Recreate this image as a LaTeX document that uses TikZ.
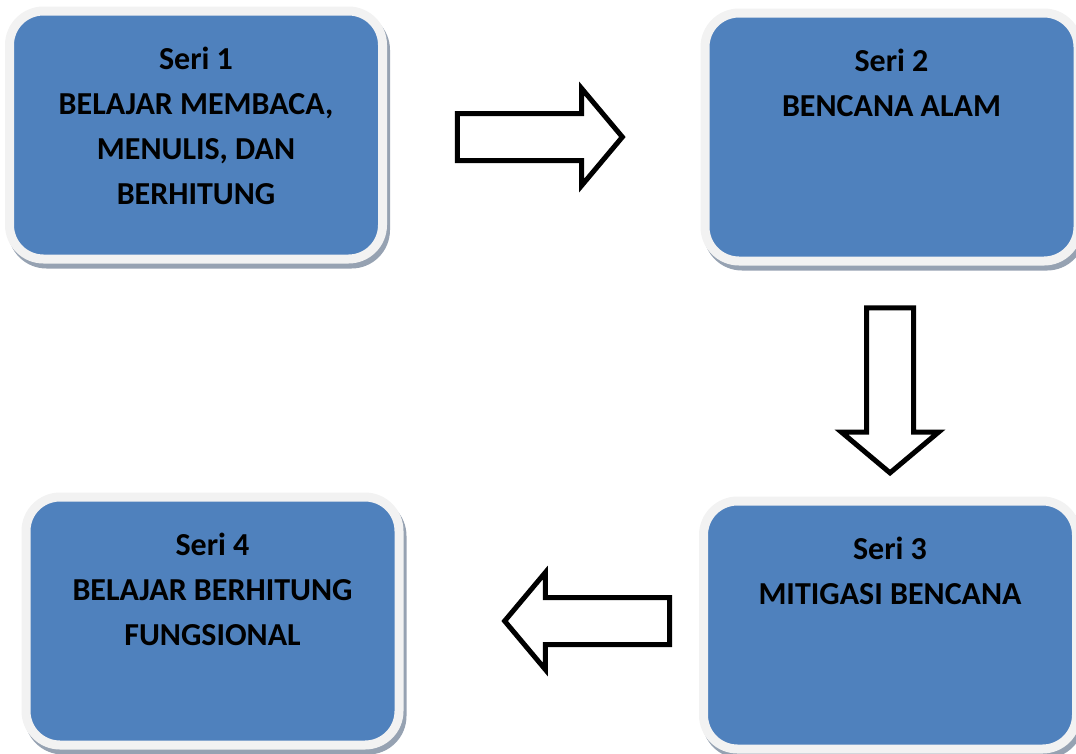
\documentclass[tikz,border=0pt]{standalone}
\usepackage{fontspec}
\setmainfont{Carlito}
\usepackage{tikz}
\usepackage{xcolor}
\usetikzlibrary{positioning,shapes.arrows,shadows}
\definecolor{seriblue}{RGB}{79,129,189}
\definecolor{rimgray}{RGB}{242,242,242}
\definecolor{shadegray}{RGB}{150,162,178}

\begin{document}
\begin{tikzpicture}[x=1pt,y=-1pt,
		seribox/.style={rectangle,
			rounded corners=34pt,
			minimum width=373pt,
			minimum height=248pt,
			fill=seriblue,
			draw=rimgray,
			line width=9pt,
			outer sep=0pt,
			drop shadow={shadow xshift=3pt,shadow yshift=-5pt,
				fill=shadegray,draw=shadegray,line width=9pt,opacity=1}},
		seritext/.style={inner sep=0pt,
			outer sep=0pt,
			anchor=north,
			align=center,
			font=\fontsize{32}{45}\selectfont\bfseries},
		blokpanah/.style={single arrow,
			draw=black,
			fill=white,
			line width=5pt,
			inner sep=21pt,
			minimum height=165pt,
			single arrow head extend=25pt,
			single arrow tip angle=100}]
	\useasboundingbox (0,0) rectangle (1076,753);
	
	% kotak seri
	\node[seribox] (seri1) at (196,135) {};
	\node[seribox] (seri2) at (891.5,137) {};
	\node[seribox] (seri3) at (890,625) {};
	\node[seribox] (seri4) at (212.5,621) {};
	
	\node[seritext, below=36pt of seri1.north] (teks1) {Seri 1\\BELAJAR MEMBACA,\\MENULIS, DAN\\BERHITUNG};
	\node[seritext, below=36pt of seri2.north] (teks2) {Seri 2\\BENCANA ALAM};
	\node[seritext, below=36pt of seri3.north] (teks3) {Seri 3\\MITIGASI BENCANA};
	\node[seritext, below=36pt of seri4.north] (teks4) {Seri 4\\BELAJAR BERHITUNG\\FUNGSIONAL};
	
	% panah antar seri
	\node[blokpanah] (panah12) at (530,137) {};
	\node[blokpanah, shape border rotate=270] (panah23) at (890,380.5) {};
	\node[blokpanah, shape border rotate=180] (panah34) at (597,621) {};
\end{tikzpicture}
\end{document}
